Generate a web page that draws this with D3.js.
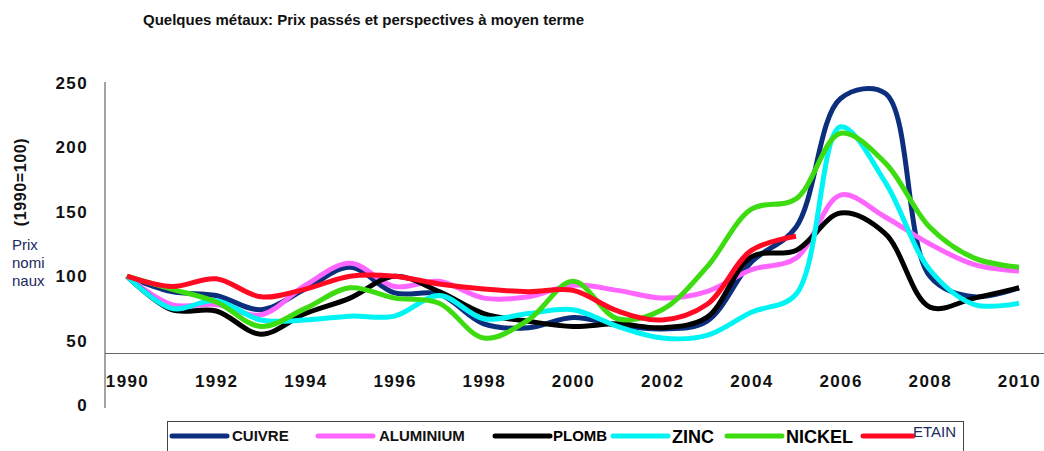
<!DOCTYPE html>
<html>
<head>
<meta charset="utf-8">
<script src="https://cdn.jsdelivr.net/npm/d3@7"></script>
<style>
  body { margin: 0; background: #fff; }
  svg { display: block; font-family: "Liberation Sans", Arial, sans-serif; }
</style>
</head>
<body>
<div id="chart-area"></div>
<script>
// data (index 1990 = 100)
const years = [1990, 1991, 1992, 1993, 1994, 1995, 1996, 1997, 1998, 1999, 2000,
               2001, 2002, 2003, 2004, 2005, 2006, 2007, 2008, 2009, 2010];
const cuivre    = [100, 88, 85, 74, 90, 107, 87, 86, 63, 60, 68, 62, 59, 65, 111, 138, 238, 242, 100, 84, 91];
const aluminium = [100, 78, 78, 70, 93, 110, 92, 96, 83, 84, 93, 89, 83, 88, 105, 114, 163, 146, 125, 109, 104];
const plomb     = [100, 74, 73, 55, 71, 83, 100, 88, 71, 65, 61, 63, 60, 68, 115, 120, 149, 133, 76, 83, 91];
const zinc      = [100, 75, 81, 66, 66, 69, 69, 85, 67, 71, 74, 61, 52, 54, 72, 86, 216, 173, 105, 78, 79];
const nickel    = [100, 90, 80, 61, 75, 91, 83, 79, 52, 66, 96, 67, 74, 107, 152, 160, 211, 188, 138, 114, 107];
const etain     = [100, 92, 98, 84, 90, 100, 100, 94, 90, 88, 89, 73, 66, 78, 120, 131]; // stops in 2005

const seriesNames = ["CUIVRE", "ALUMINIUM", "PLOMB", "ZINC", "NICKEL", "ETAIN"];
const seriesValues = [cuivre, aluminium, plomb, zinc, nickel, etain];
const xTicks = [1990, 1992, 1994, 1996, 1998, 2000, 2002, 2004, 2006, 2008, 2010];
const yTicks = [0, 50, 100, 150, 200, 250];

const colors = {
  CUIVRE: "#0b2e7d", ALUMINIUM: "#ff66ff", PLOMB: "#000000",
  ZINC: "#00f4f4", NICKEL: "#3ddc10", ETAIN: "#ff0a22"
};

const W = 1044, H = 451;

const svg = d3.select("#chart-area")
  .append("svg")
    .attr("width", W)
    .attr("height", H);

// scales
const x = d3.scaleLinear().domain([1990, 2010]).range([127, 1019]);
const y = d3.scaleLinear().domain([0, 250]).range([405, 83]);

// title
svg.append("text")
  .attr("x", 143)
  .attr("y", 25)
  .attr("font-size", "15px")
  .attr("font-weight", "bold")
  .attr("fill", "#111")
  .text("Quelques métaux: Prix passés et perspectives à moyen terme");

// y axis (labels only, line drawn below)
const yAxisCall = d3.axisLeft(y)
  .tickValues(yTicks)
  .tickSize(0)
  .tickPadding(17);
const yAxis = svg.append("g")
  .attr("transform", "translate(105,0)")
  .call(yAxisCall);
yAxis.select(".domain").remove();
yAxis.selectAll("text")
  .attr("font-family", "Liberation Sans, Arial, sans-serif")
  .attr("font-size", "17px")
  .attr("font-weight", "bold")
  .attr("letter-spacing", "1.4px")
  .attr("fill", "#111");

// x axis sits on the line at value 40
const xAxisCall = d3.axisBottom(x)
  .tickValues(xTicks)
  .tickSize(0)
  .tickPadding(21)
  .tickFormat(d3.format("d"));
const xAxis = svg.append("g")
  .attr("transform", "translate(0," + y(40) + ")")
  .call(xAxisCall);
xAxis.select(".domain").remove();
xAxis.selectAll("text")
  .attr("font-family", "Liberation Sans, Arial, sans-serif")
  .attr("font-size", "17px")
  .attr("font-weight", "bold")
  .attr("letter-spacing", "1.4px")
  .attr("fill", "#111");

// axis lines
svg.append("line")
  .attr("x1", 105).attr("x2", 105)
  .attr("y1", 82).attr("y2", 408)
  .attr("stroke", "#666").attr("stroke-width", 1.2);
svg.append("line")
  .attr("x1", 105).attr("x2", W)
  .attr("y1", y(40)).attr("y2", y(40))
  .attr("stroke", "#666").attr("stroke-width", 1.2);

// y axis title
svg.append("text")
  .attr("transform", "translate(26,182) rotate(-90)")
  .attr("text-anchor", "middle")
  .attr("font-size", "16px")
  .attr("font-weight", "bold")
  .attr("letter-spacing", "0.6px")
  .attr("fill", "#111")
  .text("(1990=100)");
const unitLines = ["Prix", "nomi", "naux"];
unitLines.forEach(function(t, i) {
  svg.append("text")
    .attr("x", 12)
    .attr("y", 250 + i * 18)
    .attr("font-size", "15px")
    .attr("fill", "#1c2a5e")
    .text(t);
});

// lines
const line = d3.line()
  .x(function(d) { return x(d.year); })
  .y(function(d) { return y(d.value); })
  .curve(d3.curveCatmullRom.alpha(0.5));

seriesNames.forEach(function(name, i) {
  const pts = seriesValues[i].map(function(v, j) { return { year: years[j], value: v }; });
  svg.append("path")
    .datum(pts)
    .attr("fill", "none")
    .attr("stroke", colors[name])
    .attr("stroke-width", 5)
    .attr("stroke-linejoin", "round")
    .attr("d", line);
});

// legend box (bottom edge falls outside the picture)
svg.append("rect")
  .attr("x", 167.5).attr("y", 421.5)
  .attr("width", 796).attr("height", 60)
  .attr("fill", "none")
  .attr("stroke", "#444");

const legendItems = [
  { name: "CUIVRE",    x1: 172, x2: 227, tx: 232, size: 15, weight: "bold",   ty: 441, fill: "#111" },
  { name: "ALUMINIUM", x1: 318, x2: 373, tx: 379, size: 15, weight: "bold",   ty: 441, fill: "#111" },
  { name: "PLOMB",     x1: 495, x2: 550, tx: 553, size: 15, weight: "bold",   ty: 441, fill: "#000" },
  { name: "ZINC",      x1: 613, x2: 668, tx: 672, size: 18, weight: "bold",   ty: 443, fill: "#000" },
  { name: "NICKEL",    x1: 727, x2: 782, tx: 786, size: 18, weight: "bold",   ty: 443, fill: "#000" },
  { name: "ETAIN",     x1: 863, x2: 913, tx: 913, size: 15, weight: "normal", ty: 437, fill: "#1c2a5e" }
];
legendItems.forEach(function(it) {
  svg.append("line")
    .attr("x1", it.x1).attr("x2", it.x2)
    .attr("y1", 436).attr("y2", 436)
    .attr("stroke", colors[it.name])
    .attr("stroke-width", 5)
    .attr("stroke-linecap", "round");
  svg.append("text")
    .attr("x", it.tx)
    .attr("y", it.ty)
    .attr("font-size", it.size + "px")
    .attr("font-weight", it.weight)
    .attr("fill", it.fill)
    .text(it.name);
});
</script>
</body>
</html>
